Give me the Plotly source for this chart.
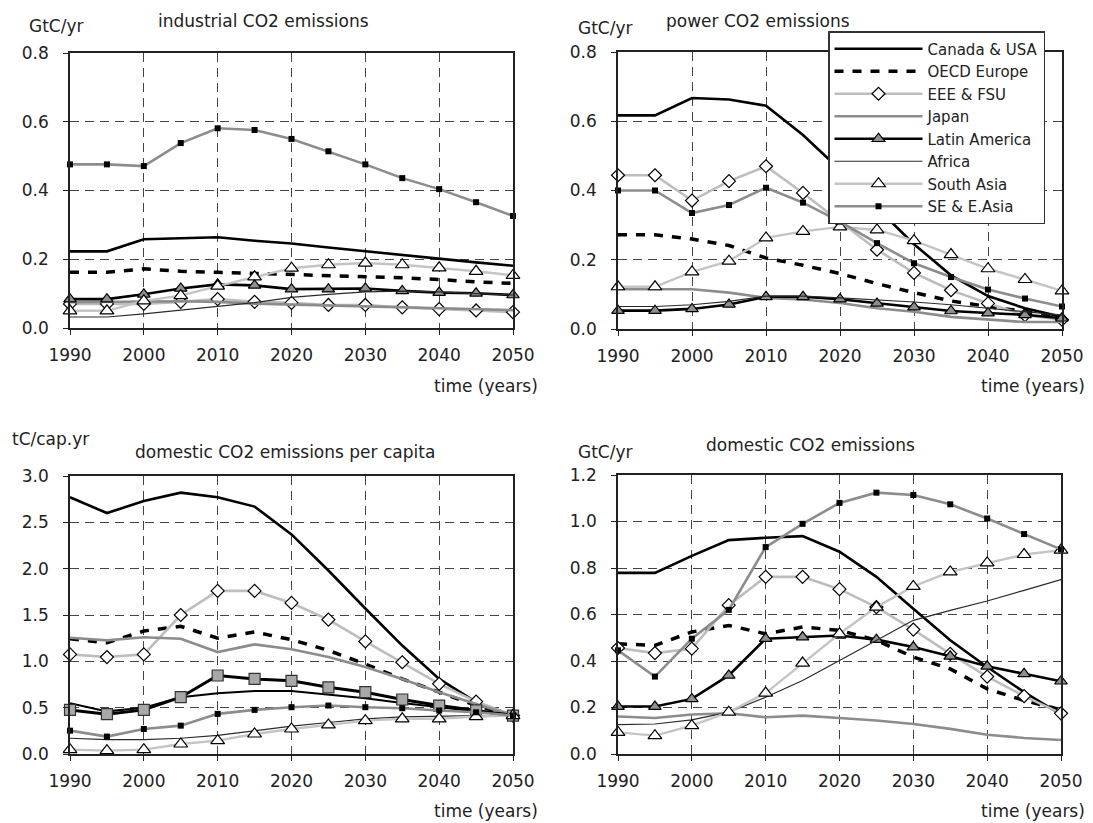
import plotly.graph_objects as go

years = [1990, 1995, 2000, 2005, 2010, 2015, 2020, 2025, 2030, 2035, 2040, 2045, 2050]
regions = ["Canada & USA", "OECD Europe", "EEE & FSU", "Japan", "Latin America",
           "Africa", "South Asia", "SE & E.Asia"]

# industrial CO2 emissions (GtC/yr)
ind_canada = [0.223, 0.223, 0.258, 0.26, 0.264, 0.254, 0.246, 0.234, 0.223, 0.212, 0.2, 0.191, 0.181]
ind_oecd = [0.162, 0.162, 0.172, 0.165, 0.162, 0.159, 0.156, 0.151, 0.149, 0.146, 0.141, 0.134, 0.13]
ind_eee = [0.07, 0.07, 0.07, 0.076, 0.084, 0.076, 0.073, 0.067, 0.067, 0.06, 0.055, 0.051, 0.046]
ind_japan = [0.075, 0.075, 0.077, 0.078, 0.076, 0.071, 0.068, 0.065, 0.063, 0.06, 0.058, 0.055, 0.052]
ind_latin = [0.084, 0.084, 0.098, 0.115, 0.127, 0.124, 0.113, 0.113, 0.115, 0.108, 0.103, 0.101, 0.096]
ind_africa = [0.032, 0.032, 0.041, 0.051, 0.063, 0.074, 0.089, 0.098, 0.105, 0.107, 0.105, 0.1, 0.096]
ind_sasia = [0.05, 0.05, 0.079, 0.094, 0.122, 0.149, 0.174, 0.184, 0.189, 0.184, 0.175, 0.165, 0.153]
ind_seasia = [0.476, 0.476, 0.471, 0.538, 0.581, 0.576, 0.55, 0.514, 0.476, 0.436, 0.404, 0.366, 0.326]

# power CO2 emissions (GtC/yr)
pow_canada = [0.617, 0.617, 0.667, 0.663, 0.645, 0.56, 0.46, 0.35, 0.245, 0.155, 0.095, 0.06, 0.035]
pow_oecd = [0.272, 0.272, 0.26, 0.241, 0.205, 0.184, 0.16, 0.131, 0.105, 0.081, 0.065, 0.05, 0.036]
pow_eee = [0.444, 0.444, 0.371, 0.427, 0.47, 0.393, 0.31, 0.229, 0.162, 0.112, 0.074, 0.04, 0.027]
pow_japan = [0.115, 0.115, 0.115, 0.105, 0.09, 0.085, 0.075, 0.06, 0.05, 0.035, 0.028, 0.02, 0.02]
pow_latin = [0.053, 0.053, 0.058, 0.071, 0.093, 0.093, 0.086, 0.074, 0.063, 0.052, 0.046, 0.041, 0.031]
pow_africa = [0.065, 0.065, 0.07, 0.08, 0.095, 0.095, 0.09, 0.085, 0.078, 0.07, 0.06, 0.05, 0.04]
pow_sasia = [0.122, 0.122, 0.165, 0.196, 0.263, 0.282, 0.295, 0.286, 0.255, 0.215, 0.174, 0.143, 0.11]
pow_seasia = [0.4, 0.4, 0.335, 0.358, 0.408, 0.365, 0.31, 0.248, 0.19, 0.15, 0.114, 0.088, 0.065]

# domestic CO2 emissions per capita (tC/cap.yr)
pc_canada = [2.77, 2.6, 2.73, 2.82, 2.77, 2.67, 2.37, 1.98, 1.57, 1.17, 0.81, 0.56, 0.415]
pc_oecd = [1.244, 1.2, 1.327, 1.378, 1.25, 1.316, 1.233, 1.118, 0.97, 0.81, 0.667, 0.523, 0.415]
pc_eee = [1.075, 1.046, 1.075, 1.5, 1.76, 1.76, 1.63, 1.45, 1.215, 0.99, 0.757, 0.566, 0.415]
pc_japan = [1.255, 1.226, 1.26, 1.244, 1.1, 1.183, 1.13, 1.046, 0.94, 0.81, 0.667, 0.54, 0.415]
pc_latin = [0.476, 0.43, 0.476, 0.613, 0.847, 0.81, 0.79, 0.72, 0.667, 0.588, 0.523, 0.47, 0.415]
pc_africa = [0.17, 0.155, 0.155, 0.17, 0.2, 0.25, 0.3, 0.34, 0.38, 0.4, 0.41, 0.415, 0.415]
pc_sasia = [0.047, 0.036, 0.047, 0.108, 0.144, 0.216, 0.27, 0.314, 0.36, 0.38, 0.38, 0.404, 0.415]
pc_seasia = [0.252, 0.188, 0.27, 0.306, 0.433, 0.476, 0.505, 0.523, 0.505, 0.494, 0.47, 0.45, 0.415]
pc_unlabelled = [0.548, 0.46, 0.5, 0.613, 0.656, 0.68, 0.68, 0.645, 0.602, 0.55, 0.505, 0.458, 0.415]

# domestic CO2 emissions (GtC/yr)
dom_canada = [0.779, 0.779, 0.852, 0.92, 0.93, 0.937, 0.87, 0.762, 0.625, 0.489, 0.374, 0.266, 0.17]
dom_oecd = [0.474, 0.467, 0.525, 0.553, 0.517, 0.546, 0.532, 0.489, 0.417, 0.366, 0.28, 0.23, 0.19]
dom_eee = [0.456, 0.434, 0.453, 0.64, 0.762, 0.762, 0.709, 0.632, 0.535, 0.431, 0.333, 0.249, 0.175]
dom_japan = [0.161, 0.155, 0.17, 0.175, 0.158, 0.165, 0.155, 0.144, 0.129, 0.108, 0.083, 0.069, 0.06]
dom_latin = [0.204, 0.204, 0.237, 0.338, 0.496, 0.503, 0.51, 0.492, 0.46, 0.42, 0.377, 0.345, 0.313]
dom_africa = [0.126, 0.129, 0.147, 0.18, 0.244, 0.316, 0.402, 0.49, 0.575, 0.618, 0.658, 0.704, 0.75]
dom_sasia = [0.093, 0.079, 0.122, 0.18, 0.262, 0.391, 0.517, 0.632, 0.721, 0.783, 0.822, 0.858, 0.877]
dom_seasia = [0.446, 0.333, 0.496, 0.62, 0.89, 0.99, 1.08, 1.124, 1.114, 1.074, 1.013, 0.946, 0.88]

panels = [
    [ind_canada, ind_oecd, ind_eee, ind_japan, ind_latin, ind_africa, ind_sasia, ind_seasia],
    [pow_canada, pow_oecd, pow_eee, pow_japan, pow_latin, pow_africa, pow_sasia, pow_seasia],
    [pc_canada, pc_oecd, pc_eee, pc_japan, pc_latin, pc_africa, pc_sasia, pc_seasia],
    [dom_canada, dom_oecd, dom_eee, dom_japan, dom_latin, dom_africa, dom_sasia, dom_seasia],
]
y_ranges = [[0, 0.8], [0, 0.8], [0, 3.0], [0, 1.2]]
y_dticks = [0.2, 0.2, 0.5, 0.2]

FONT = "DejaVu Sans"
OFF = 8          # default page body margin
W, H = 1093 - OFF, 823 - OFF

def px(x):
    return (x - OFF) / W

def py(y):
    return 1 - (y - OFF) / H

styles = [
    dict(line=dict(color="#000000", width=2.6), mode="lines"),
    dict(line=dict(color="#000000", width=3.5, dash="9px,9px"), mode="lines"),
    dict(line=dict(color="#bdbdbd", width=2.6), mode="lines+markers",
         marker=dict(symbol="diamond", size=10, color="white", line=dict(color="#000", width=1.2))),
    dict(line=dict(color="#8c8c8c", width=2.6), mode="lines"),
    dict(line=dict(color="#000000", width=2.6), mode="lines+markers",
         marker=dict(symbol="triangle-up", size=11, color="#8f8f8f", line=dict(color="#000", width=1.2))),
    dict(line=dict(color="#2a2a2a", width=1.2), mode="lines"),
    dict(line=dict(color="#c4c4c4", width=2.4), mode="lines+markers",
         marker=dict(symbol="triangle-up", size=12, color="white", line=dict(color="#000", width=1.2))),
    dict(line=dict(color="#8c8c8c", width=2.6), mode="lines+markers",
         marker=dict(symbol="square", size=6, color="#000", line=dict(color="#000", width=0))),
]

# plot-area pixel boxes (left, right, top, bottom)
boxes = [(70, 513, 53, 328), (618, 1062, 52, 329), (70, 513, 476, 754), (618, 1061, 475, 754)]

fig = go.Figure()

for p, series in enumerate(panels):
    ax = "" if p == 0 else str(p + 1)
    if p == 2:
        fig.add_trace(go.Scatter(
            x=years, y=pc_unlabelled, mode="lines", showlegend=False,
            line=dict(color="#000000", width=2.0), cliponaxis=False,
            xaxis="x" + ax, yaxis="y" + ax, hoverinfo="skip"))
    for i, vals in enumerate(series):
        st = dict(styles[i])
        if p == 2 and i == 4:
            st = dict(line=dict(color="#000000", width=3.0), mode="lines+markers",
                      marker=dict(symbol="square", size=11, color="#a8a8a8",
                                  line=dict(color="#333", width=1.2)))
        fig.add_trace(go.Scatter(
            x=years, y=vals, name=regions[i], legendgroup=regions[i],
            showlegend=(p == 1), cliponaxis=False,
            xaxis="x" + ax, yaxis="y" + ax, **st))

axis_common = dict(
    showline=True, mirror=True, linecolor="#222", linewidth=1.6,
    showgrid=True, gridcolor="#444", gridwidth=1, griddash="9px,6px",
    zeroline=False, ticks="outside", ticklen=5, tickcolor="#222",
    tickfont=dict(family=FONT, size=17, color="#222"),
)

layout = dict(
    width=W, height=H, margin=dict(l=0, r=0, t=0, b=0, autoexpand=False),
    paper_bgcolor="white", plot_bgcolor="white",
    font=dict(family=FONT, size=17, color="#222"),
    legend=dict(x=px(828), y=py(31), xanchor="left", yanchor="top",
                bgcolor="white", bordercolor="#333", borderwidth=1.5,
                font=dict(family=FONT, size=15, color="#222"),
                itemwidth=88, tracegroupgap=0),
)

for p in range(4):
    ax = "" if p == 0 else str(p + 1)
    l, r, t, b = boxes[p]
    xa = dict(axis_common, domain=[px(l), px(r)], range=[1990, 2050], dtick=10, tick0=1990,
              anchor="y" + ax, ticklabelstandoff=6)
    ya = dict(axis_common, domain=[py(b), py(t)], range=y_ranges[p], dtick=y_dticks[p],
              tickformat=".1f", anchor="x" + ax, ticklabelstandoff=11)
    layout["xaxis" + ax] = xa
    layout["yaxis" + ax] = ya

fig.update_layout(**layout)

def txt(text, x, y, xanchor="left", size=17):
    fig.add_annotation(text=text, x=px(x), y=py(y), xref="paper", yref="paper",
                       xanchor=xanchor, yanchor="middle", showarrow=False,
                       font=dict(family=FONT, size=size, color="#222"))

# panel 1
txt("GtC/yr", 27, 26)
txt("industrial CO2 emissions", 263, 21, "center")
txt("time (years)", 540, 386, "right")
# panel 2
txt("GtC/yr", 576, 28)
txt("power CO2 emissions", 664, 21)
txt("time (years)", 1087, 386, "right")
# panel 3
txt("tC/cap.yr", 10, 439)
txt("domestic CO2 emissions per capita", 285, 452, "center")
txt("time (years)", 540, 811, "right")
# panel 4
txt("GtC/yr", 576, 452)
txt("domestic CO2 emissions", 810, 445, "center")
txt("time (years)", 1087, 811, "right")

fig.write_html("out.html")
